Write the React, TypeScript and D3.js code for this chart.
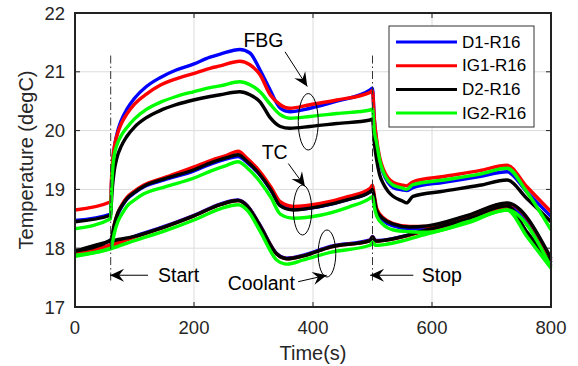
import React from "react";
import * as d3 from "d3";

const W = 578;
const H = 366;
const margin = { top: 13, right: 27, bottom: 59, left: 75 };
const FONT = "Arial, 'Liberation Sans', sans-serif";

const xTicks = [0, 200, 400, 600, 800];
const yTicks = [17, 18, 19, 20, 21, 22];

const sensors = ["D1-R16", "IG1-R16", "D2-R16", "IG2-R16"];
const colors = ["#0000ff", "#ff0000", "#000000", "#00ff00"];

// FBG readings (top group)
const tFbg = [0, 60, 61, 63, 66, 70, 78, 87, 100, 120, 143, 170, 199, 227, 244, 277, 294, 311, 328, 345, 361, 395, 440, 496, 500, 503, 507, 512, 518, 526, 535, 551, 557, 568, 620, 680, 726, 759, 800];
const fbgD1 = [18.47, 18.58, 19.0, 19.4, 19.7, 19.92, 20.18, 20.36, 20.55, 20.75, 20.9, 21.03, 21.13, 21.25, 21.3, 21.38, 21.32, 21.03, 20.69, 20.38, 20.32, 20.38, 20.5, 20.69, 20.72, 20.2, 19.8, 19.5, 19.28, 19.12, 19.03, 18.99, 18.98, 19.03, 19.12, 19.22, 19.3, 18.96, 18.54];
const fbgIG1 = [18.65, 18.79, 19.1, 19.45, 19.72, 19.9, 20.12, 20.28, 20.45, 20.62, 20.77, 20.88, 20.97, 21.06, 21.1, 21.18, 21.12, 20.95, 20.61, 20.44, 20.38, 20.44, 20.52, 20.65, 20.68, 20.2, 19.85, 19.55, 19.35, 19.2, 19.12, 19.07, 19.06, 19.13, 19.22, 19.32, 19.41, 19.05, 18.62];
const fbgD2 = [18.45, 18.56, 18.75, 19.05, 19.32, 19.52, 19.74, 19.9, 20.06, 20.22, 20.34, 20.44, 20.52, 20.58, 20.61, 20.66, 20.61, 20.49, 20.22, 20.07, 20.04, 20.07, 20.12, 20.18, 20.2, 19.8, 19.5, 19.25, 19.1, 18.97, 18.88, 18.8, 18.77, 18.88, 18.97, 19.07, 19.16, 18.85, 18.45];
const fbgIG2 = [18.33, 18.5, 18.85, 19.3, 19.58, 19.74, 19.92, 20.05, 20.2, 20.36, 20.48, 20.58, 20.66, 20.73, 20.76, 20.83, 20.78, 20.66, 20.45, 20.27, 20.21, 20.24, 20.29, 20.35, 20.37, 20.0, 19.79, 19.5, 19.3, 19.15, 19.07, 19.02, 19.0, 19.08, 19.16, 19.26, 19.36, 18.96, 18.31];

// thermocouple readings (middle group)
const tTc = [0, 60, 62, 66, 72, 80, 87, 100, 115, 150, 199, 230, 255, 274, 290, 311, 330, 345, 367, 412, 460, 496, 500, 503, 507, 518, 535, 563, 592, 660, 726, 800];
const tcD1 = [17.92, 18.05, 18.12, 18.37, 18.57, 18.73, 18.83, 18.94, 19.04, 19.16, 19.31, 19.44, 19.52, 19.56, 19.45, 19.24, 18.97, 18.73, 18.66, 18.71, 18.83, 18.96, 19.0, 18.85, 18.62, 18.47, 18.38, 18.33, 18.33, 18.5, 18.71, 17.75];
const tcIG1 = [17.92, 18.06, 18.15, 18.4, 18.6, 18.76, 18.86, 18.97, 19.07, 19.2, 19.38, 19.5, 19.58, 19.65, 19.52, 19.3, 19.03, 18.79, 18.71, 18.76, 18.88, 19.02, 19.07, 18.9, 18.68, 18.52, 18.42, 18.37, 18.37, 18.55, 18.76, 17.8];
const tcD2 = [17.95, 18.14, 18.2, 18.4, 18.6, 18.74, 18.84, 18.95, 19.05, 19.18, 19.33, 19.46, 19.54, 19.59, 19.47, 19.25, 18.98, 18.72, 18.65, 18.71, 18.83, 18.96, 19.0, 18.86, 18.64, 18.5, 18.41, 18.36, 18.38, 18.56, 18.77, 17.83];
const tcIG2 = [17.88, 18.0, 18.05, 18.25, 18.45, 18.6, 18.71, 18.82, 18.92, 19.04, 19.19, 19.32, 19.41, 19.47, 19.36, 19.13, 18.85, 18.58, 18.51, 18.56, 18.7, 18.85, 18.88, 18.7, 18.55, 18.4, 18.31, 18.28, 18.27, 18.45, 18.65, 17.68];

// coolant readings (bottom group)
const tCool = [0, 60, 100, 150, 200, 244, 274, 290, 311, 339, 356, 384, 429, 496, 500, 505, 591, 660, 726, 760, 800];
const coolD1 = [17.92, 18.05, 18.2, 18.37, 18.56, 18.75, 18.82, 18.72, 18.39, 17.91, 17.83, 17.88, 18.03, 18.14, 18.2, 18.13, 18.31, 18.5, 18.7, 18.25, 17.71];
const coolIG1 = [17.91, 18.05, 18.19, 18.36, 18.55, 18.74, 18.81, 18.71, 18.38, 17.9, 17.82, 17.87, 18.02, 18.13, 18.19, 18.12, 18.3, 18.49, 18.69, 18.24, 17.7];
const coolD2 = [17.95, 18.12, 18.2, 18.36, 18.55, 18.74, 18.81, 18.71, 18.38, 17.9, 17.82, 17.87, 18.02, 18.13, 18.19, 18.12, 18.31, 18.5, 18.72, 18.27, 17.75];
const coolIG2 = [17.86, 17.99, 18.13, 18.29, 18.48, 18.67, 18.74, 18.64, 18.29, 17.8, 17.73, 17.8, 17.93, 18.05, 18.1, 18.05, 18.24, 18.43, 18.65, 18.19, 17.66];

// start / stop markers and annotations (data units)
const startT = 60;
const stopT = 500;
const markerSpan = [17.45, 21.32];
const labels = [
  { text: "Start", t: 139.5, v: 17.54 },
  { text: "Stop", t: 582.7, v: 17.54 },
  { text: "Coolant", t: 256.6, v: 17.4 },
  { text: "FBG", t: 283, v: 21.54 },
  { text: "TC", t: 313.8, v: 19.64 },
];
const arrows = [
  { from: [122.7, 17.54], to: [59, 17.54] },
  { from: [568.6, 17.54], to: [496, 17.54] },
  { from: [375, 17.43], to: [423, 17.54] },
  { from: [353, 21.34], to: [390.4, 20.75] },
  { from: [358.5, 19.44], to: [386.5, 19.05] },
];
const ellipses = [
  { t: 392, v: 20.15, rt: 16.8, rv: 0.48 },
  { t: 382.4, v: 18.65, rt: 15.4, rv: 0.425 },
  { t: 423.5, v: 17.91, rt: 14.8, rv: 0.4 },
];

const App = () => {
  const x = d3.scaleLinear().domain([0, 800]).range([margin.left, W - margin.right]);
  const y = d3.scaleLinear().domain([17, 22]).range([H - margin.bottom, margin.top]);

  const groups = [
    { t: tFbg, vals: [fbgD1, fbgIG1, fbgD2, fbgIG2] },
    { t: tTc, vals: [tcD1, tcIG1, tcD2, tcIG2] },
    { t: tCool, vals: [coolD1, coolIG1, coolD2, coolIG2] },
  ];

  const line = d3
    .line<[number, number]>()
    .x((d) => x(d[0]))
    .y((d) => y(d[1]))
    .curve(d3.curveMonotoneX);

  const x0 = x(0);
  const x1 = x(800);
  const y0 = y(17);
  const y1 = y(22);

  const arrowHead = (a: { from: number[]; to: number[] }) => {
    const fx = x(a.from[0]);
    const fy = y(a.from[1]);
    const tx = x(a.to[0]);
    const ty = y(a.to[1]);
    const ang = (Math.atan2(ty - fy, tx - fx) * 180) / Math.PI;
    return (
      <g>
        <line x1={fx} y1={fy} x2={tx} y2={ty} stroke="#000" strokeWidth={1} />
        <path
          d="M0,0 L-14,-6.5 L-9,0 L-14,6.5 Z"
          fill="#000"
          transform={`translate(${tx},${ty}) rotate(${ang})`}
        />
      </g>
    );
  };

  return (
    <svg
      width={W}
      height={H}
      style={{ position: "absolute", left: 0, top: 0, background: "#fff" }}
      fontFamily={FONT}
    >
      <rect x={0} y={0} width={W} height={H} fill="#fff" />
      <rect x={x0} y={y1} width={x1 - x0} height={y0 - y1} fill="#fff" />

      {/* grid */}
      <g stroke="#dcdcdc" strokeWidth={1}>
        {xTicks.map((t) => (
          <line key={"gx" + t} x1={x(t)} x2={x(t)} y1={y1} y2={y0} />
        ))}
        {yTicks.map((v) => (
          <line key={"gy" + v} x1={x0} x2={x1} y1={y(v)} y2={y(v)} />
        ))}
      </g>

      {/* series, drawn sensor by sensor */}
      {sensors.map((s, i) => (
        <g key={s} stroke={colors[i]} strokeWidth={3.4} fill="none" strokeLinejoin="round">
          {groups.map((g, j) => (
            <path key={j} d={line(g.t.map((t, k) => [t, g.vals[i][k]] as [number, number])) || ""} />
          ))}
        </g>
      ))}

      {/* start / stop markers */}
      {[startT, stopT].map((t) => (
        <line
          key={"m" + t}
          x1={x(t)}
          x2={x(t)}
          y1={y(markerSpan[0])}
          y2={y(markerSpan[1])}
          stroke="#333"
          strokeWidth={1}
          strokeDasharray="8 3 1.5 3"
        />
      ))}

      {/* ellipses */}
      {ellipses.map((e, i) => (
        <ellipse
          key={"e" + i}
          cx={x(e.t)}
          cy={y(e.v)}
          rx={x(e.rt) - x(0)}
          ry={y(17) - y(17 + e.rv)}
          fill="none"
          stroke="#000"
          strokeWidth={1}
        />
      ))}

      {arrows.map((a, i) => (
        <g key={"a" + i}>{arrowHead(a)}</g>
      ))}

      {labels.map((l) => (
        <text
          key={l.text}
          x={x(l.t)}
          y={y(l.v)}
          dominantBaseline="central"
          fontSize={19.5}
          fill="#000"
        >
          {l.text}
        </text>
      ))}

      {/* axes box and ticks */}
      <g stroke="#222" strokeWidth={1}>
        {xTicks.map((t) => (
          <g key={"tx" + t}>
            <line x1={x(t)} x2={x(t)} y1={y0} y2={y0 - 5} />
            <line x1={x(t)} x2={x(t)} y1={y1} y2={y1 + 5} />
          </g>
        ))}
        {yTicks.map((v) => (
          <g key={"ty" + v}>
            <line x1={x0} x2={x0 + 5} y1={y(v)} y2={y(v)} />
            <line x1={x1} x2={x1 - 5} y1={y(v)} y2={y(v)} />
          </g>
        ))}
      </g>
      <rect x={x0} y={y1} width={x1 - x0} height={y0 - y1} fill="none" stroke="#222" strokeWidth={2} />

      {xTicks.map((t) => (
        <text key={"lx" + t} x={x(t)} y={y0 + 20} textAnchor="middle" dominantBaseline="central" fontSize={18.5} fill="#262626">
          {t}
        </text>
      ))}
      {yTicks.map((v) => (
        <text key={"ly" + v} x={x0 - 10} y={y(v)} textAnchor="end" dominantBaseline="central" fontSize={18.5} fill="#262626">
          {v}
        </text>
      ))}

      <text x={(x0 + x1) / 2} y={353} textAnchor="middle" dominantBaseline="central" fontSize={20} fill="#262626">
        Time(s)
      </text>
      <text
        transform={`translate(26,${(y0 + y1) / 2}) rotate(-90)`}
        textAnchor="middle"
        dominantBaseline="central"
        fontSize={20}
        fill="#262626"
      >
        Temperature (degC)
      </text>

      {/* legend */}
      <g transform={`translate(389,26)`}>
        <rect x={0} y={0} width={145} height={101} fill="#fff" stroke="#333" strokeWidth={1} />
        {sensors.map((s, i) => (
          <g key={"lg" + s} transform={`translate(0,${16 + i * 23.7})`}>
            <line x1={7} x2={68} y1={0} y2={0} stroke={colors[i]} strokeWidth={3} />
            <text x={73} y={0} dominantBaseline="central" fontSize={17} fill="#000">
              {s}
            </text>
          </g>
        ))}
      </g>
    </svg>
  );
};

export default App;
